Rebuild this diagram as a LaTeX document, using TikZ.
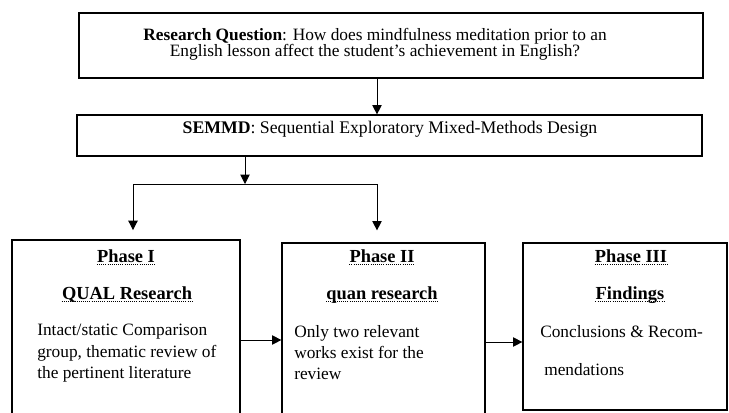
\documentclass[tikz,border=0pt]{standalone}
\usepackage{fontspec}
\setmainfont{Liberation Serif}
\usetikzlibrary{arrows.meta,fit}

\begin{document}
\begin{tikzpicture}[x=0.75pt,y=-0.75pt,
    box/.style={draw,line width=0.9pt,inner sep=0pt},
    txt/.style={inner sep=0pt,font=\fontsize{13}{16}\selectfont},
    head/.style={txt,anchor=base,font=\fontsize{13.8}{16}\selectfont\bfseries},
    link/.style={-{Triangle[width=7pt,length=7pt]},line width=0.7pt}]
  \useasboundingbox (0,0) rectangle (729,412);
  \clip (0,0) rectangle (729,412);
  % boxes
  \node[box,fit={(79,13) (703,78)}] (rq) {};
  \node[box,fit={(77,115) (702,156)}] (semmd) {};
  \node[box,fit={(12,240) (240,440)}] (p1) {};
  \node[box,fit={(282,243) (485,441)}] (p2) {};
  \node[box,fit={(523,243) (727,410)}] (p3) {};
  % texts
  \node[txt,align=center,anchor=north,font=\fontsize{13}{12}\selectfont] (rqtext) at (375,28)
    {\textbf{Research Question}: How does mindfulness meditation prior to an\\
     English lesson affect the student's achievement in English?};
  \node[txt,anchor=base,font=\fontsize{13.3}{16}\selectfont] (semmdtext) at (390,133)
    {\textbf{SEMMD}: Sequential Exploratory Mixed-Methods Design};
  \node[head] (p1head) at (126,262) {Phase I};
  \node[head] (p1kind) at (127,299) {QUAL Research};
  \node[txt,align=left,anchor=north west] (p1body) at (37,324)
    {Intact/static Comparison\\group, thematic review of\\the pertinent literature};
  \node[head] (p2head) at (382,262) {Phase II};
  \node[head] (p2kind) at (382,299) {quan research};
  \node[txt,align=left,anchor=north west] (p2body) at (294,325)
    {Only two relevant\\works exist for the\\review};
  \node[head] (p3head) at (631,262) {Phase III};
  \node[head] (p3kind) at (630,299) {Findings};
  \node[txt,align=left,anchor=north west] (p3body) at (540,325)
    {Conclusions \& Recom-\\[12.5pt]\hspace*{3pt}mendations};
  % dotted underlines of the headings
  \foreach \n in {p1head,p1kind,p2head,p2kind,p3head,p3kind}
    \draw[densely dotted,line width=0.6pt]
      ([yshift=-2pt]\n.base west) -- ([yshift=-2pt]\n.base east);
  % connectors
  \coordinate (split) at (245,184);
  \coordinate (bl) at (133,184);
  \coordinate (br) at (377,184);
  \draw[line width=0.7pt] (bl) -- (br);
  \begin{scope}[link]
    \draw ([xshift=-10.5pt]rq.south) -- ([xshift=-10.5pt]rq.south |- semmd.north);
    \draw (split |- semmd.south) -- (split);
    \draw[shorten >=7pt] (bl) -- (bl |- p1.north);
    \draw[shorten >=9pt] (br) -- (br |- p2.north);
    \draw (p1.east) -- (p1.east -| p2.west);
    \draw (p2.east) -- (p2.east -| p3.west);
  \end{scope}
\end{tikzpicture}
\end{document}
